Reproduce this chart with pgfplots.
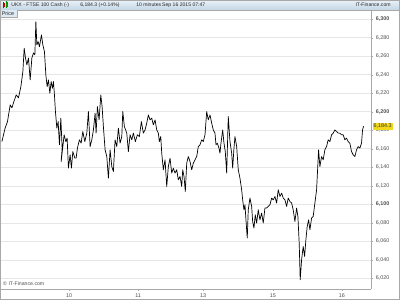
\documentclass[border=0pt]{standalone}
\usepackage{fontspec}
\setmainfont{Liberation Sans}
\usepackage{pgfplots}
\pgfplotsset{compat=1.18}
\definecolor{hdrtop}{HTML}{EAF2F8}
\definecolor{hdrbot}{HTML}{C2D6E6}
\definecolor{gridc}{HTML}{E6E6E6}
\definecolor{axc}{HTML}{A8A8A8}
\definecolor{lblc}{HTML}{505050}
\definecolor{pricebox}{HTML}{F2D81C}
\begin{document}
\begin{tikzpicture}[x=1pt,y=1pt]
\fill[white] (0,0) rectangle (400,300);
% header
\shade[top color=hdrtop,bottom color=hdrbot] (0,290) rectangle (400,300);
\draw[axc] (0,290) -- (400,290);
\fill[red!80!black] (2.5,292.5) rectangle (4.5,296.5);
\draw[red!80!black] (3.5,291.5) -- (3.5,297.5);
\fill[green!60!black] (5.5,293) rectangle (7.5,298);
\draw[green!60!black] (6.5,292) -- (6.5,299);
\begin{scope}[every node/.style={font=\fontsize{5.1}{6}\selectfont,inner sep=0pt,text=black!85}]
\node[anchor=west] at (11,295) {UKX - FTSE 100 Cash (-)};
\node[anchor=west] at (80,295) {6,184.3 (+0.14\%)};
\node[anchor=west] at (136,295) {10 minutes};
\node[anchor=west] at (162,295) {Sep 16 2015 07:47};
\node[anchor=east] at (391,295) {IT-Finance.com};
\end{scope}
\begin{axis}[
  at={(1pt,11pt)}, anchor=south west,
  width=370pt, height=279pt, scale only axis,
  xmin=1, xmax=371, ymin=6008.9, ymax=6309.9,
  axis line style={axc},
  axis x line*=bottom, axis y line*=right,
  ytick={6020,6040,...,6300},
  yticklabels={6{,}020,6{,}040,6{,}060,6{,}080,\textbf{6{,}100},6{,}120,6{,}140,6{,}160,6{,}180,\textbf{6{,}200},6{,}220,6{,}240,6{,}260,6{,}280,\textbf{6{,}300}},
  yticklabel style={font=\fontsize{5.4}{6}\selectfont,text=lblc,anchor=west,xshift=-1pt},
  xtick={69,138,203,273,342},
  xticklabels={10,11,13,15,16},
  xticklabel style={font=\fontsize{5.4}{6}\selectfont,text=lblc,yshift=1pt},
  tick style={axc},
  tick align=outside, major tick length=2.5pt,
  ymajorgrids, grid style={gridc,line width=0.6pt},
  /pgf/number format/assume math mode=true,
  clip=true,
]
\addplot[black, line width=0.7pt, line join=round] coordinates {
(1.7,6167.8)(5,6182.6)(7.3,6189.4)(10,6207.4)(11.7,6204.2)(13.3,6209.6)(16,6218.2)(18.3,6215.0)
(20.7,6227.2)(22.7,6243.4)(24,6268.6)(25.3,6258.1)(26.7,6250.6)(28.3,6258.1)(30,6234.4)(31.7,6258.1)
(33.3,6263.5)(34.7,6261.4)(35.7,6297.3)(36.7,6272.2)(38,6275.7)(39.3,6270.3)(41.3,6283.0)(42.7,6272.2)
(44.3,6264.9)(45.7,6239.8)(47,6227.2)(48.3,6234.4)(49.7,6220.0)(51,6232.6)(52.3,6225.4)(53.3,6232.6)
(54.3,6218.2)(55.3,6200.2)(56.7,6182.3)(58,6189.4)(59.3,6164.3)(60.7,6193.1)(62,6160.7)(61,6146.2)
(62.7,6162.4)(64,6175.1)(65.7,6167.8)(67,6171.5)(68.3,6139.1)(70,6153.5)(71.3,6139.1)(72.7,6157.0)
(74.7,6149.9)(76,6149.9)(77.3,6160.7)(79.3,6169.7)(81,6166.1)(82.7,6178.6)(84.7,6167.8)(86.7,6176.9)
(88.3,6200.2)(90,6162.4)(91.7,6169.7)(93.3,6180.4)(95,6198.5)(96,6176.9)(97.3,6205.6)(99,6191.2)
(100.7,6218.2)(102,6205.6)(103.3,6184.0)(105,6158.9)(106.7,6151.6)(108.3,6128.3)(110,6158.9)(111.7,6140.8)
(113.3,6135.5)(115,6169.7)(116.7,6162.4)(118.3,6182.3)(120,6166.1)(121.7,6173.2)(122.7,6200.2)(124.3,6184.0)
(126.7,6176.9)(128.3,6157.0)(130,6175.1)(131.7,6169.7)(133.3,6176.9)(135.3,6167.8)(137.3,6175.1)(139.3,6173.2)
(141.3,6189.4)(143.3,6176.9)(145,6180.4)(146.7,6187.7)(148.3,6196.6)(150,6191.2)(151.7,6193.1)(153.3,6185.8)
(155,6191.2)(156.7,6180.4)(158.3,6176.9)(159.3,6167.8)(160.7,6173.2)(161.7,6155.3)(163.3,6137.3)(165,6148.1)
(166.7,6119.3)(168.3,6140.8)(170,6149.9)(171.7,6133.7)(173.3,6139.1)(175,6133.7)(176.7,6137.3)(178.3,6126.5)
(180,6130.1)(181.7,6119.3)(182.7,6137.3)(184,6130.1)(185.3,6113.9)(186.7,6144.5)(188.3,6151.6)(190,6146.2)
(191.7,6137.3)(193.3,6144.5)(195,6148.1)(196.7,6151.6)(198.3,6162.4)(200,6164.3)(201.7,6169.7)(203.3,6167.8)
(205,6175.1)(206.7,6200.2)(208.3,6191.2)(210,6196.6)(211.7,6187.7)(213.3,6180.4)(215,6176.9)(216,6164.3)
(217.3,6166.1)(219,6160.7)(220,6155.3)(221,6166.1)(222.7,6180.4)(224,6166.1)(225.3,6157.0)(226.7,6133.7)
(228.3,6194.8)(230,6167.8)(231.7,6155.3)(232.7,6139.1)(234,6160.7)(235,6173.2)(236.7,6162.4)(238.3,6137.3)
(240,6128.3)(241.7,6115.7)(242.7,6104.9)(244,6094.1)(245,6099.5)(246,6083.3)(247.3,6063.6)(248.3,6094.1)
(250,6106.8)(251.7,6097.7)(252.7,6081.5)(254,6074.4)(255.3,6088.7)(256.7,6079.8)(258.3,6094.1)(260,6083.3)
(261.7,6090.6)(263.3,6079.8)(265,6096.0)(266.7,6096.0)(268.3,6097.7)(270,6099.5)(271.7,6106.8)(273.3,6104.9)
(275,6108.5)(276.7,6101.4)(278.3,6115.7)(280,6108.5)(281.7,6112.1)(283.3,6106.8)(285,6104.9)(286.7,6097.7)
(288.3,6106.8)(290,6103.1)(291.7,6101.4)(293.3,6094.1)(295,6081.5)(296.7,6096.0)(298,6086.9)(299.3,6058.2)
(300.3,6018.6)(301.7,6040.2)(303.3,6054.5)(304.7,6043.7)(306,6061.8)(307.3,6076.1)(308.7,6083.3)(310,6072.5)
(311.7,6085.2)(313.3,6086.9)(315,6101.4)(316.7,6115.7)(317.7,6137.3)(318.7,6158.9)(320,6140.8)(321.7,6151.6)
(323.3,6148.1)(325,6158.9)(326.7,6162.4)(328.3,6169.7)(330,6167.8)(331.7,6175.1)(333.3,6176.9)(335,6180.4)
(336.7,6178.6)(338.3,6176.9)(340,6176.9)(341.7,6175.1)(343.3,6175.1)(345,6169.7)(346.7,6171.5)(348.3,6167.8)
(350,6166.1)(351.7,6157.0)(353.3,6153.5)(355,6151.6)(356.7,6158.9)(358.3,6162.4)(360,6160.7)(361.7,6166.1)
(362.7,6180.4)(363.7,6184.3)
};
\node[anchor=south west,inner sep=0pt,font=\fontsize{5.2}{6}\selectfont,text=lblc] at (rel axis cs:0.005,0.01) {\textcopyright\ IT-Finance.com};
\coordinate (pb) at (axis cs:371,6184.3);
\end{axis}
\node[anchor=west,fill=pricebox,inner xsep=1pt,inner ysep=1.2pt,xshift=1.5pt,font=\fontsize{5.4}{6}\selectfont,text=black!80] at (pb) {6,184.3};
% Price label
\fill[hdrtop!70!hdrbot] (0,283) rectangle (17,290);
\draw[axc] (0,283) -- (17,283) -- (17,290);
\node[anchor=west,inner sep=0pt,font=\fontsize{5.4}{6}\selectfont,text=black!85] at (1.5,286.5) {Price};
\draw[axc] (0.3,0.3) rectangle (399.7,299.7);
\draw[axc] (0.5,11) -- (0.5,290);
\path (0,0) rectangle (400,300);
\end{tikzpicture}
\end{document}
